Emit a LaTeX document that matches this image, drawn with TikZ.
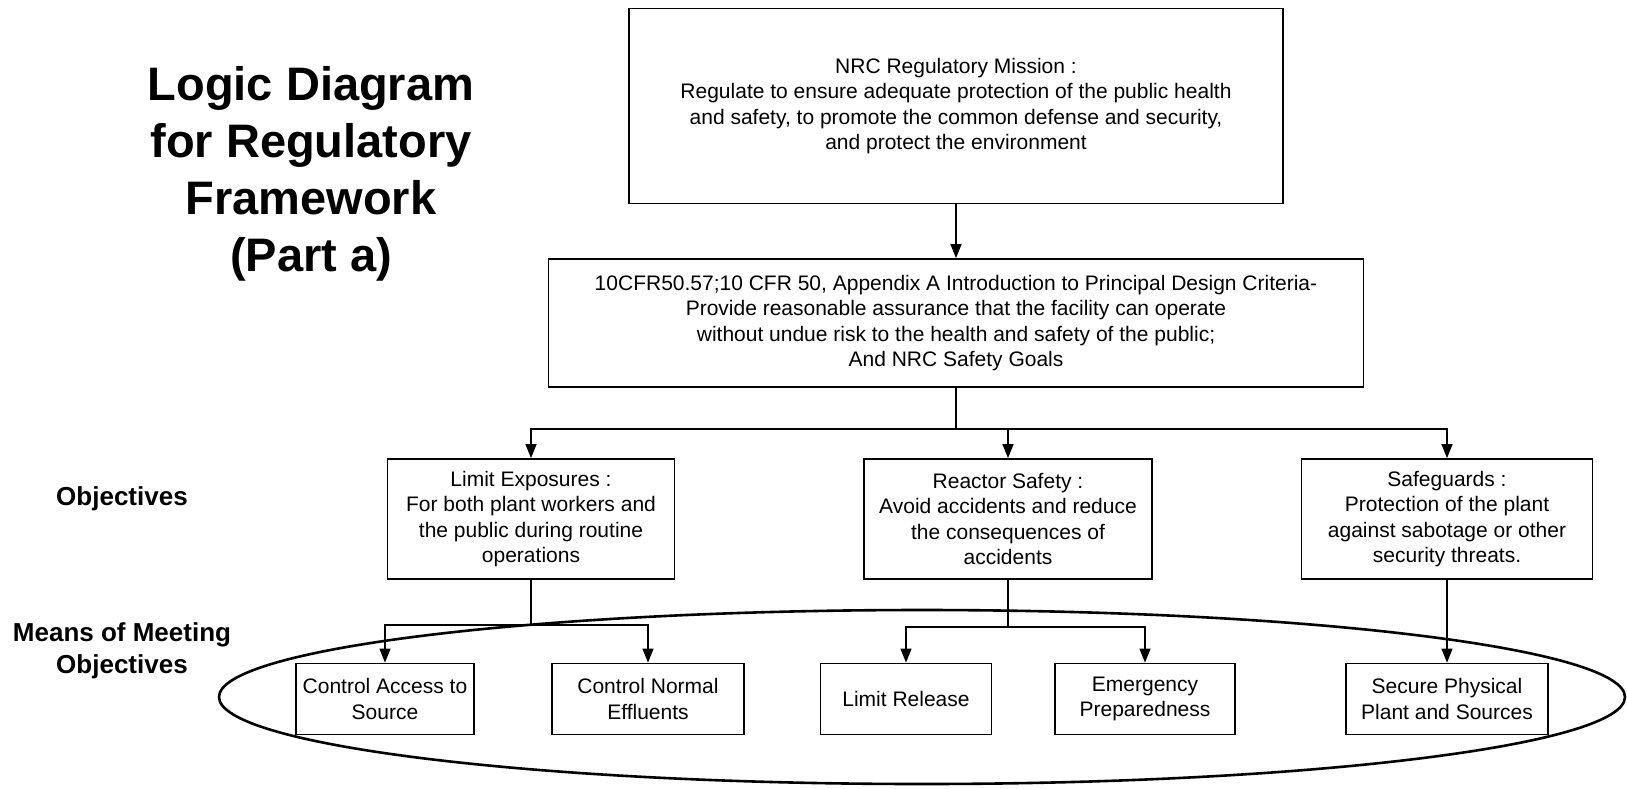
\documentclass[tikz,border=0pt]{standalone}
\usepackage{fontspec}
\setmainfont{Liberation Sans}
\usetikzlibrary{arrows.meta}

\begin{document}
\begin{tikzpicture}[x=1pt,y=-1pt,
    box/.style={draw,line width=1.8pt,fill=white,align=center,inner sep=0pt,
      font=\fontsize{21}{25.5}\selectfont},
    hd/.style={align=center,font=\bfseries\fontsize{26}{32}\selectfont},
    ar/.style={-{Triangle[length=14pt,width=11pt]},line width=1.4pt},
    ln/.style={line width=1.4pt}]
      \useasboundingbox (0,0) rectangle (1627,788);
      \draw [line width=2.6pt] (922,697) ellipse [x radius=703pt, y radius=87pt];
      \node (ttl) at (311,174) [align=center,font=\bfseries\fontsize{47}{57}\selectfont]
        {Logic Diagram\\for Regulatory\\Framework\\(Part a)};
      \node (obj) at (122,499) [hd] {Objectives};
      \node (mom) at (122,651) [hd] {Means of Meeting\\Objectives};
      \node (mis) at (956,106) [box,minimum width=654,minimum height=195]
        {NRC Regulatory Mission :\\Regulate to ensure adequate protection of the public health\\and safety, to promote the common defense and security,\\and protect the environment};
      \node (cfr) at (956,323) [box,minimum width=815,minimum height=128]
        {10CFR50.57;10 CFR 50, Appendix A Introduction to Principal Design Criteria-\\Provide reasonable assurance that the facility can operate\\without undue risk to the health and safety of the public;\\And NRC Safety Goals};
      \node (le) at (531,519) [box,minimum width=287,minimum height=120]
        {Limit Exposures :\\For both plant workers and\\the public during routine\\operations};
      \node (rs) at (1008,519) [box,minimum width=288,minimum height=120]
        {Reactor Safety :\\Avoid accidents and reduce\\the consequences of\\accidents};
      \node (sg) at (1447,519) [box,minimum width=291,minimum height=120]
        {Safeguards :\\Protection of the plant\\against sabotage or other\\security threats.};
      \node (cas) at (385,699) [box,minimum width=178,minimum height=71] {Control Access to\\Source};
      \node (cne) at (648,699) [box,minimum width=192,minimum height=71] {Control Normal\\Effluents};
      \node (lr) at (906,699) [box,minimum width=171,minimum height=71] {Limit Release};
      \node (ep) at (1145,699) [box,minimum width=180,minimum height=71] {Emergency\\Preparedness};
      \node (sp) at (1447,699) [box,minimum width=202,minimum height=71] {Secure Physical\\Plant and Sources};
      \coordinate (j0) at (956,429);
      \coordinate (j1) at (531,625);
      \coordinate (j2) at (1008,627);
      \draw [ar] (mis) -- (cfr);
      \draw [ln] (cfr) -- (j0);
      \draw [ar] (j0) -| (le);
      \draw [ar] (j0) -| (rs);
      \draw [ar] (j0) -| (sg);
      \draw [ln] (le) -- (j1);
      \draw [ar] (j1) -| (cas);
      \draw [ar] (j1) -| (cne);
      \draw [ln] (rs) -- (j2);
      \draw [ar] (j2) -| (lr);
      \draw [ar] (j2) -| (ep);
      \draw [ar] (sg) -- (sp);
    \end{tikzpicture}
\end{document}
